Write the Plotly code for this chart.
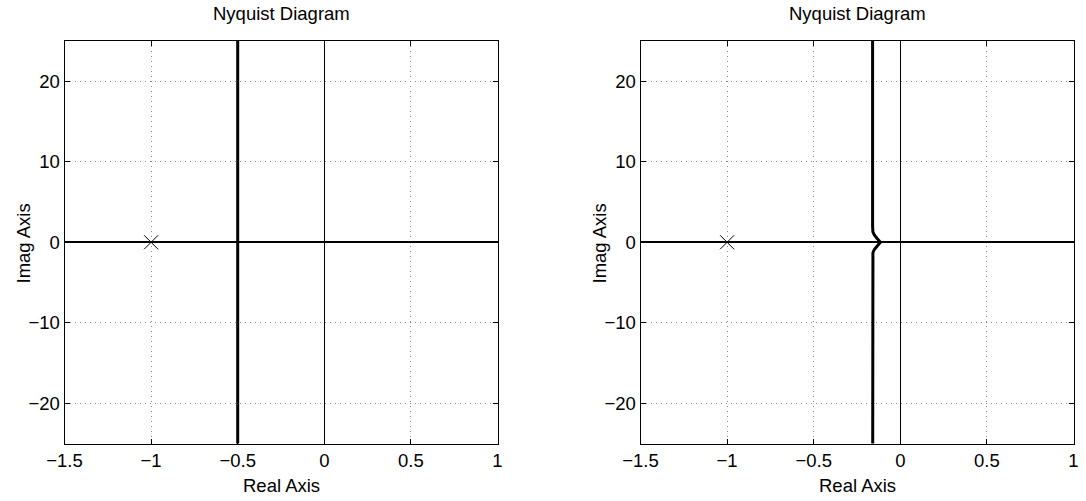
import plotly.graph_objects as go

# ---- data ----
left_real = [-0.5, -0.5, -0.5]
left_imag = [-40, 0, 40]

right_real = [-0.16, -0.16, -0.158, -0.15, -0.135, -0.115, -0.135, -0.15, -0.158, -0.16, -0.16]
right_imag = [-40, -2.0, -1.3, -0.9, -0.5, 0.0, 0.5, 0.9, 1.3, 2.0, 40]

crit_real = [-1]
crit_imag = [0]

x_ticks = [-1.5, -1, -0.5, 0, 0.5, 1]
x_ticktext = ["\u22121.5", "\u22121", "\u22120.5", "0", "0.5", "1"]
y_ticks = [-20, -10, 0, 10, 20]
y_ticktext = ["\u221220", "\u221210", "0", "10", "20"]

titles = ["Nyquist Diagram", "Nyquist Diagram"]
x_label = "Real Axis"
y_label = "Imag Axis"

W, H = 1086, 501
FONT = "Liberation Sans, Arial, Helvetica, sans-serif"
FS = 18.5

fig = go.Figure()

panels = [(left_real, left_imag, "x", "y"), (right_real, right_imag, "x2", "y2")]
for re, im, xa, ya in panels:
    fig.add_trace(go.Scatter(x=re, y=im, mode="lines", xaxis=xa, yaxis=ya,
                             line=dict(color="black", width=3), showlegend=False,
                             hoverinfo="skip"))
    fig.add_trace(go.Scatter(x=crit_real, y=crit_imag, mode="markers", xaxis=xa, yaxis=ya,
                             marker=dict(symbol="x-thin", size=14, color="black",
                                         line=dict(color="black", width=1)),
                             showlegend=False, hoverinfo="skip"))

# domains in pixels
x_doms = [(64.5, 497.5), (640.5, 1073.5)]
y_top, y_bot = 41, 443.5
ydom = [1 - y_bot / H, 1 - y_top / H]

axis_common = dict(showline=True, linecolor="black", linewidth=1, mirror="ticks",
                   ticks="inside", ticklen=5, tickwidth=1, tickcolor="black",
                   showgrid=True, gridcolor="#8a8a8a", gridwidth=1, griddash="1px,4px",
                   zeroline=True, zerolinecolor="black",
                   tickfont=dict(family=FONT, size=FS, color="black"),
                   automargin=False)

layout = dict(width=W, height=H, margin=dict(l=0, r=0, t=0, b=0),
              paper_bgcolor="white", plot_bgcolor="white",
              font=dict(family=FONT, size=FS, color="black"))

for i, (x0, x1) in enumerate(x_doms):
    sx = "" if i == 0 else "2"
    layout["xaxis" + sx] = dict(axis_common, domain=[x0 / W, x1 / W], range=[-1.5, 1],
                                tickvals=x_ticks, ticktext=x_ticktext,
                                zerolinewidth=1.5,
                                anchor="y" + sx)
    layout["yaxis" + sx] = dict(axis_common, domain=ydom, range=[-25, 25],
                                tickvals=y_ticks, ticktext=y_ticktext,
                                zerolinewidth=2,
                                anchor="x" + sx)

fig.update_layout(**layout)

annotations = []
for i, (x0, x1) in enumerate(x_doms):
    cx = (x0 + x1) / 2 / W
    annotations.append(dict(text=titles[i], x=cx, y=1 - 14 / H, xref="paper", yref="paper",
                            showarrow=False, xanchor="center", yanchor="middle",
                            font=dict(family=FONT, size=FS, color="black")))
    annotations.append(dict(text=x_label, x=cx, y=1 - 485 / H, xref="paper", yref="paper",
                            showarrow=False, xanchor="center", yanchor="middle",
                            font=dict(family=FONT, size=FS, color="black")))
    annotations.append(dict(text=y_label, x=(x0 - 42) / W, y=1 - 244 / H, xref="paper", yref="paper",
                            showarrow=False, xanchor="center", yanchor="middle", textangle=-90,
                            font=dict(family=FONT, size=FS, color="black")))
fig.update_layout(annotations=annotations)

fig.write_html("out.html", config={"displayModeBar": False, "staticPlot": True},
               post_script="document.body.style.margin='0';document.body.style.padding='0';")
